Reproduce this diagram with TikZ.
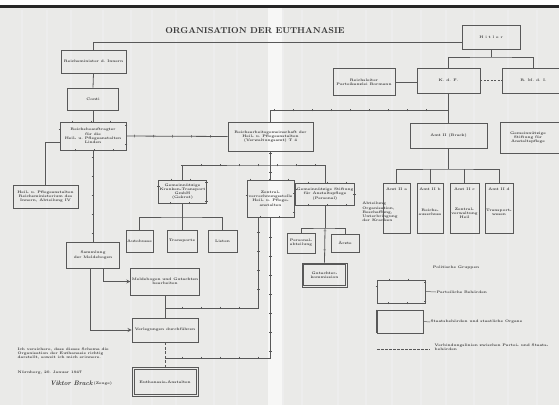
\documentclass[tikz,border=0pt]{standalone}
\usetikzlibrary{decorations.markings}
\definecolor{bg}{RGB}{234,234,232}
\definecolor{lc}{RGB}{88,88,88}
\definecolor{tc}{RGB}{55,55,55}
\newcommand{\bt}{\fontsize{3.6}{4.2}\selectfont\bfseries}
\tikzset{
  box/.style={draw=lc, line width=0.8pt, align=center, inner sep=1pt, font=\bt, text=tc},
  conn/.style={draw=lc, line width=0.8pt},
  tickd/.style={postaction={decorate, decoration={markings,
     mark=between positions 0.08 and 0.95 step 19pt with {\draw[lc,line width=0.5pt] (0pt,-1.3pt) -- (0pt,1.3pt);}}}},
  lbl/.style={font=\bt, text=tc, align=left, inner sep=0.5pt},
}
\begin{document}
\begin{tikzpicture}[x=1pt,y=-1pt]
\useasboundingbox (0,0) rectangle (559,405);
\fill[white] (0,0) rectangle (559,6);
\fill[bg] (0,6) rectangle (559,405);
\fill[black!85] (0,4.5) rectangle (559,7.5);
\foreach \xx in {22,47,71,103,131,152,176,214,237,283,302,338,366,392,421,446,474,508,537}
  \draw[black!7, line width=1.2pt] (\xx,10) -- (\xx,405);
\fill[white!60!bg] (268,8) rectangle (282,405);

% title
\node[font=\fontsize{8.6}{9}\selectfont\bfseries, text=tc, inner sep=0pt] (title) at (255,31) {ORGANISATION DER EUTHANASIE};

% top right
\node[box, minimum width=58pt, minimum height=24pt] (T) at (491,37) {H i t l e r};
\node[box, minimum width=63pt, minimum height=25pt] (KdF) at (448.5,80.5) {K. d. F.};
\node[box, minimum width=63pt, minimum height=25pt] (RMI) at (533.5,80.5) {R. M. d. I.};
\node[box, minimum width=62pt, minimum height=27pt] (Bor) at (364,82) {Reichsleiter\\Parteikanzlei Bormann};
\node[box, minimum width=77pt, minimum height=25pt] (P) at (448.5,135.5) {Amt II (Brack)};
\node[box, minimum width=65pt, minimum height=31pt] (Q) at (532.5,137.5) {};
\node[lbl, align=center] (Qt) at (528,137.5) {Gemeinn\"utzige\\Stiftung f\"ur\\Anstaltspflege};

% four departments
\node[box, minimum width=27pt, minimum height=50pt, text depth=38pt] (R1) at (396.5,208) {Amt II a};
\node[lbl, align=left] (R1t) at (380,212) {Abteilung\\Organisation,\\Beschaffung,\\Unterbringung\\der Kranken};
\node[box, minimum width=26pt, minimum height=50pt, text depth=38pt] (R2) at (430,208) {Amt II b};
\node[lbl, align=center] (R2t) at (430,212) {Reichs-\\ausschuss};
\node[box, minimum width=29pt, minimum height=50pt, text depth=38pt] (R3) at (464.5,208) {Amt II c};
\node[lbl, align=center] (R3t) at (464.5,213) {Zentral-\\verwaltung\\Heil};
\node[box, minimum width=28pt, minimum height=50pt, text depth=38pt] (R4) at (499,208) {Amt II d};
\node[lbl, align=center] (R4t) at (499,212) {Transport-\\wesen};

% left column
\node[box, minimum width=65pt, minimum height=23pt] (A) at (93.5,61.5) {Reichsminister d.\ Innern};
\node[box, minimum width=51pt, minimum height=22pt] (B) at (93,99) {Conti};
\node[box, tickd, minimum width=66pt, minimum height=28pt] (C) at (93,136) {Reichsbeauftragter\\f\"ur die\\Heil- u.\ Pflegeanstalten\\Linden};
\node[box, minimum width=65pt, minimum height=23pt] (D) at (45.5,196.5) {Heil- u.\ Pflegeanstalten\\Reichsministerium des\\Innern, Abteilung IV};
\node[box, minimum width=53pt, minimum height=26pt] (E) at (93,255) {Sammlung\\der Meldebogen};
\node[box, minimum width=66pt, minimum height=27pt] (F) at (165,281.5) {Meldebogen und Gutachten\\bearbeiten};
\node[box, minimum width=66pt, minimum height=24pt] (G) at (165,330) {Verlegungen durchf\"uhren};
\node[box, minimum width=66pt, minimum height=29pt] (H) at (165,382) {Euthanasie-Anstalten};
\draw[lc, line width=0.6pt] ([xshift=2.2pt,yshift=-2.2pt]H.north west) rectangle ([xshift=-2.2pt,yshift=2.2pt]H.south east);

% middle
\node[box, minimum width=85pt, minimum height=29pt] (I) at (270.5,136.5) {Reichsarbeitsgemeinschaft der\\Heil- u.\ Pflegeanstalten\\(Verwaltungsamt) T 4};
\node[box, tickd, minimum width=45pt, minimum height=23pt] (J) at (182.5,191.5) {Gemeinn\"utzige\\Kranken-Transport\\GmbH\\(Gekrat)};
\node[box, minimum width=27pt, minimum height=22pt] (K1) at (139.5,241) {Autobusse};
\node[box, minimum width=30pt, minimum height=22pt] (K2) at (182,241) {Transporte};
\node[box, minimum width=29pt, minimum height=22pt] (K3) at (222.5,241) {Listen};
\node[box, tickd, minimum width=47pt, minimum height=37pt] (L) at (270.5,198.5) {Zentral-\\verrechnungsstelle\\Heil- u.\ Pflege-\\anstalten};
\node[box, tickd, minimum width=50pt, minimum height=22pt] (M) at (325,194) {Gemeinn\"utzige Stiftung\\f\"ur Anstaltspflege\\(Personal)};
\node[box, minimum width=28pt, minimum height=20pt] (N1) at (301,243) {Personal-\\abteilung};
\node[box, minimum width=28pt, minimum height=18pt] (N2) at (345,243) {\"Arzte};
\node[box, minimum width=45pt, minimum height=24pt] (O) at (324.5,275) {Gutachter-\\kommission};
\draw[lc, line width=0.5pt] ([xshift=2pt,yshift=-2pt]O.north west) rectangle ([xshift=-2pt,yshift=2pt]O.south east);

% coordinates
\coordinate (t1) at (462,42);
\coordinate (j2) at (491,57);
\coordinate (j1) at (448.5,110);
\coordinate (j3) at (448.5,169);
\coordinate (j4) at (270.5,165);
\coordinate (j5) at (165,308);
\coordinate (j6) at (165,358);
\coordinate (j7) at (325,228);
\coordinate (j8) at (182.5,217);

% connectors
\draw[conn] (A.north) |- (t1);
\draw[conn] (A.south) -- (B.north);
\draw[conn] (B.south) -- (C.north);
\draw[conn] ([yshift=-6pt]C.west) -| (D.north);
\draw[conn, tickd] (C.south) -- (E.north);
\draw[conn, tickd] (C.east) -- (I.west);
\draw[conn, tickd] (I.north) |- (j1);
\draw[conn] (KdF.south) -- (P.north);
\draw[conn] (T.south) -- (j2);
\draw[conn] (KdF.north) |- (j2) -| (RMI.north);
\draw[conn] (Bor.east) -- (Bor.east -| KdF.west);
\draw[conn, dash pattern=on 2pt off 1.5pt] (KdF.east) -- (RMI.west);
\draw[conn] (P.south) -- (j3);
\draw[conn] (R1.north) |- (j3) -| (R4.north);
\draw[conn] (R2.north) -- (R2.north |- j3);
\draw[conn] (R3.north) -- (R3.north |- j3);
\draw[conn, tickd] (I.south) -- (L.north);
\draw[conn, tickd] (J.north) |- (j4) -| (M.north);
\draw[conn] (J.south) -- (j8);
\draw[conn] (K1.north) |- (j8) -| (K3.north);
\draw[conn] (K2.north) -- (K2.north |- j8);
\draw[conn] (M.south) -- (j7);
\draw[conn] (N1.north) |- (j7) -| (N2.north);
\draw[conn, tickd] (j7) -- (O.north);
\draw[conn, tickd] ([xshift=-12pt]L.south) |- (j5);
\draw[conn, tickd] (L.south) |- (j6);
\draw[conn] (F.south) -- (G.north);
\draw[conn, dash pattern=on 3pt off 1.5pt] (G.south) -- (H.north);
\draw[conn, ->, >=stealth] ([xshift=10pt]E.south) |- (F.west);
\draw[conn, ->, >=stealth] ([xshift=-3pt]E.south) |- (G.west);

% legend
\node[lbl] (lh) at (456,268) {Politische Gruppen};
\node[box, tickd, minimum width=48pt, minimum height=23pt] (lg1) at (401,291.5) {};
\node[lbl, anchor=west] (lt1) at (436,292) {Parteiliche Beh\"orden};
\draw[conn, line width=0.5pt] (lg1.east) -- (lt1.west);
\node[box, minimum width=46pt, minimum height=23pt] (lg2) at (400,321.5) {};
\draw[lc, line width=1.6pt] (lg2.north west) -- (lg2.south west);
\node[lbl, anchor=west] (lt2) at (430,322) {Staatsbeh\"orden und staatliche Organe};
\draw[conn, line width=0.5pt] (lg2.east) -- (lt2.west);
\coordinate (lg3a) at (377,349);
\coordinate (lg3b) at (430,349);
\draw[conn, dash pattern=on 3pt off 1pt] (lg3a) -- (lg3b);
\node[lbl, anchor=west] (lt3) at (434,347.5) {Verbindungslinien zwischen Partei- und Staats-\\beh\"orden};

% bottom-left signature block
\node[lbl, anchor=north west] (sig1) at (17,347) {Ich versichere, dass dieses Schema die\\Organisation der Euthanasie richtig\\darstellt, soweit ich mich erinnere.};
\node[lbl, anchor=west] (sig2) at (17,373) {N\"urnberg, 20.\ Januar 1947};
\node[font=\fontsize{6.5}{7}\selectfont\itshape\bfseries, text=tc, anchor=west, inner sep=0pt] (sig3) at (50,383) {Viktor Brack};
\node[lbl, anchor=west] (sig4) at (93,384) {(Zeuge)};
\end{tikzpicture}
\end{document}
